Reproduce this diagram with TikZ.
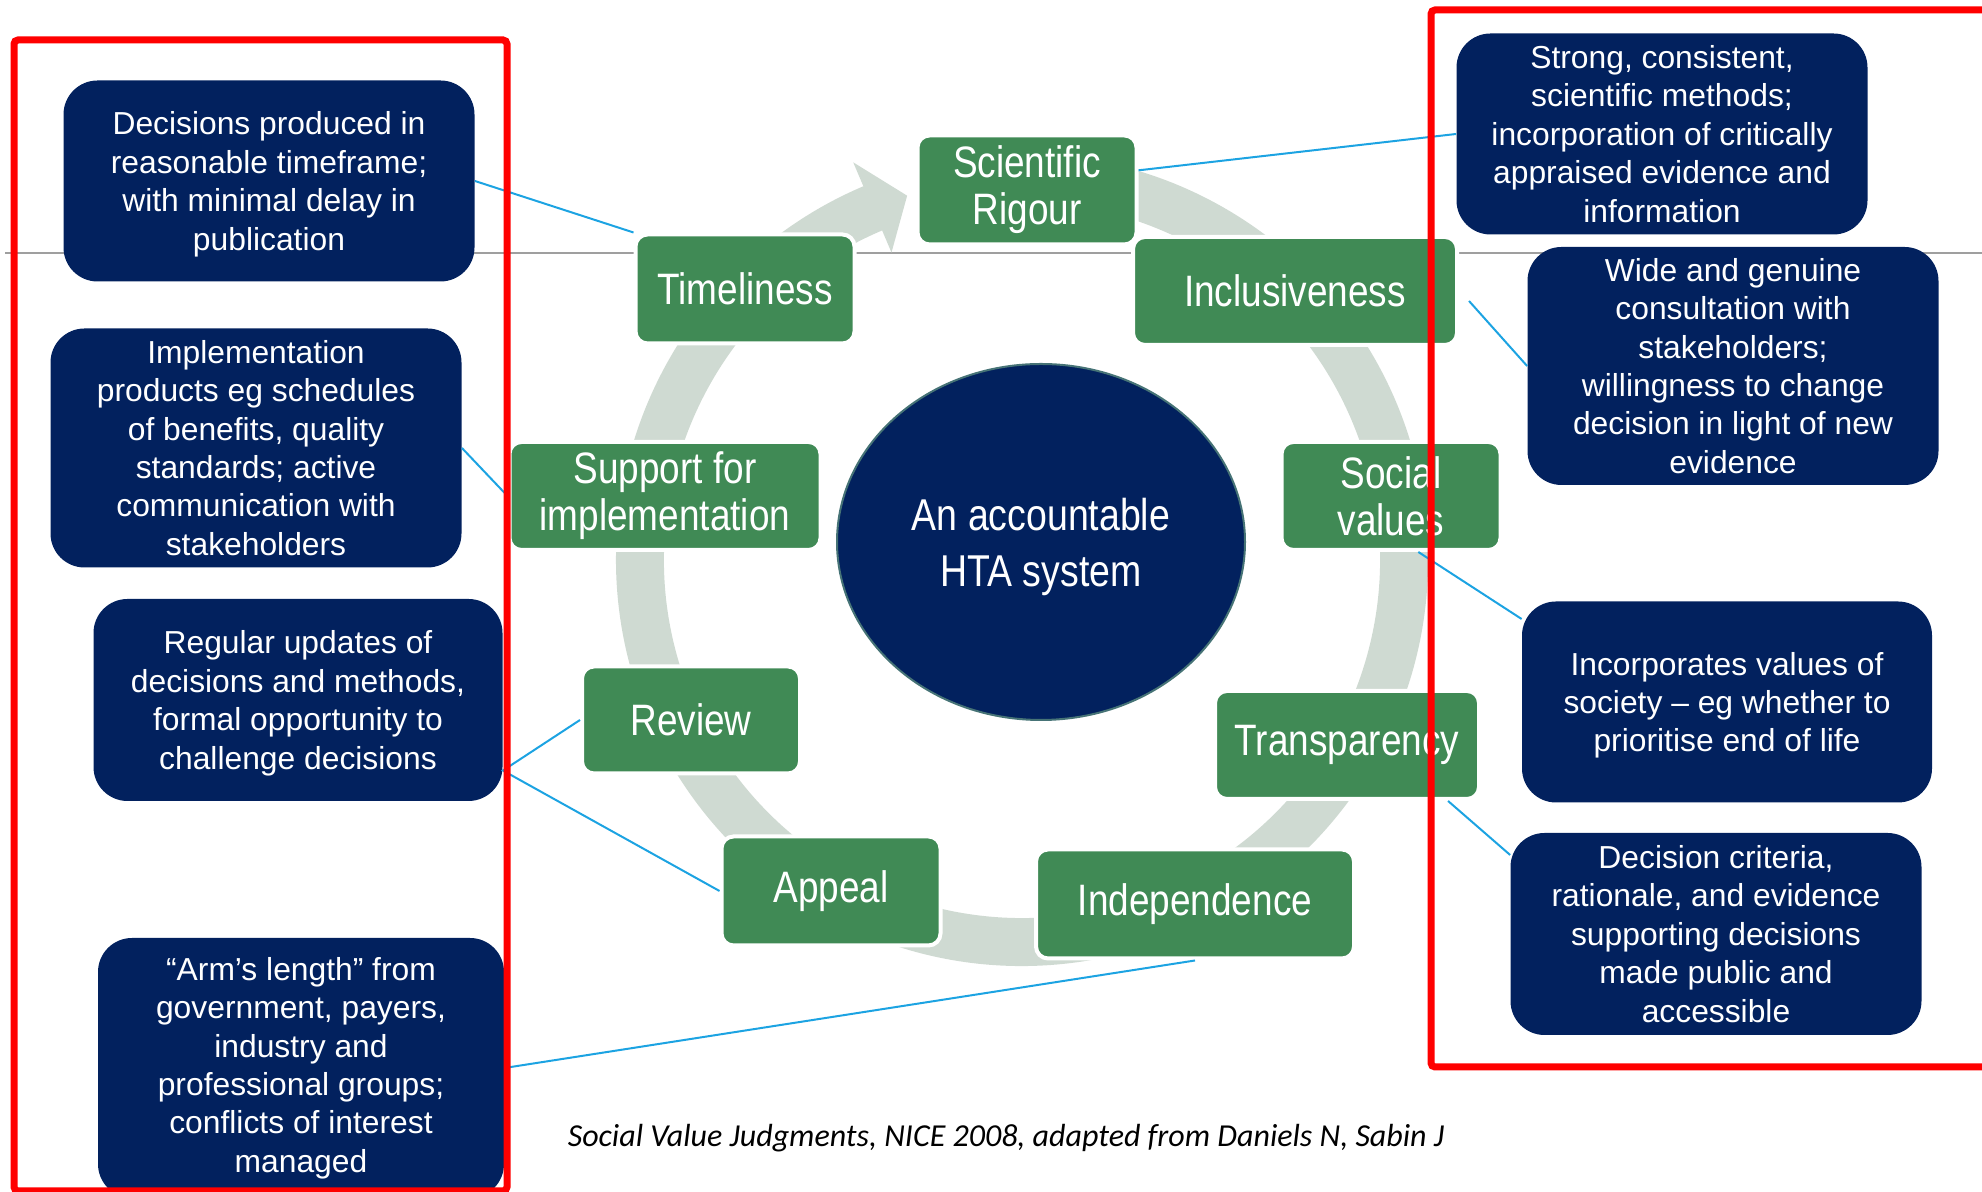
\documentclass[tikz,border=0pt]{standalone}
\usepackage{fontspec}
\setmainfont{Liberation Sans}
\newfontfamily\narrowfont[FakeStretch=0.84]{Liberation Sans}
\newfontfamily\notefont{Carlito}
\usetikzlibrary{shapes.geometric}
\definecolor{navy}{RGB}{2,33,94}
\definecolor{leaf}{RGB}{64,138,85}
\definecolor{ringgray}{RGB}{207,218,210}
\definecolor{linkblue}{RGB}{28,163,226}
\definecolor{rimteal}{RGB}{70,115,118}

\begin{document}
\begin{tikzpicture}[x=0.5pt,y=0.5pt,
    valuebox/.style={fill=leaf,draw=white,line width=2pt,rounded corners=6pt,text=white,
        align=center,inner sep=0pt,font=\narrowfont\fontsize{22}{23.5}\selectfont},
    notebox/.style={fill=navy,rounded corners=17pt,text=white,align=center,inner sep=0pt,
        minimum width=205.5pt,font=\fontsize{15.9}{19.2}\selectfont},
    lowered/.style={text depth=-1.5pt},
    linkline/.style={draw=linkblue,line width=1pt},
    redframe/.style={draw=red,line width=3.5pt,rounded corners=2pt}]
\useasboundingbox (0,0) rectangle (1982,1192);
\draw[gray!75,line width=0.75pt] (5,939) -- (1982,939);

% the cycle
\fill[ringgray,shift={(1022,632)}] (460:406) arc[start angle=460,end angle=113,radius=406]
    -- (113:432) -- (107.5:382) -- (113:334) -- (113:358)
    arc[start angle=113,end angle=460,radius=358] -- cycle;
\node[ellipse,fill=navy,draw=rimteal,line width=1pt,minimum width=204pt,minimum height=178pt,
    inner sep=0pt,text=white,align=center,text depth=-1.3pt,
    font=\narrowfont\fontsize{22.3}{28}\selectfont]
    (hta) at (1041,650) {An accountable\\HTA system};

\node[valuebox,minimum width=109.5pt,minimum height=54.5pt] (sr) at (1027,1002) {Scientific\\Rigour};
\node[valuebox,minimum width=109.5pt,minimum height=54.5pt] (tl) at (745,903) {Timeliness};
\node[valuebox,minimum width=162pt,minimum height=54pt] (inc) at (1295,901) {Inclusiveness};
\node[valuebox,minimum width=155.5pt,minimum height=54pt] (sup) at (665,696) {Support for\\implementation};
\node[valuebox,minimum width=109.5pt,minimum height=54pt] (sv) at (1391,696) {Social\\values};
\node[valuebox,minimum width=109pt,minimum height=53.5pt] (rev) at (691,472) {Review};
\node[valuebox,minimum width=132pt,minimum height=54pt] (tr) at (1347,447) {Transparency};
\node[valuebox,minimum width=109.5pt,minimum height=54.5pt] (ap) at (831,301) {Appeal};
\node[valuebox,minimum width=159pt,minimum height=54.5pt] (ind) at (1195,288) {Independence};

% notes left
\node[notebox,lowered,minimum height=100.5pt] (d1) at (269,1011)
    {Decisions produced in\\reasonable timeframe;\\with minimal delay in\\publication};
\node[notebox,minimum height=119.5pt] (d2) at (256,744)
    {Implementation\\products eg schedules\\of benefits, quality\\standards; active\\communication with\\stakeholders};
\node[notebox,lowered,minimum width=204.5pt,minimum height=101pt] (d3) at (298,492)
    {Regular updates of\\decisions and methods,\\formal opportunity to\\challenge decisions};
\node[notebox,minimum width=203pt,minimum height=130pt] (d4) at (301,124)
    {“Arm’s length” from\\government, payers,\\industry and\\professional groups;\\conflicts of interest\\managed};
% notes right
\node[notebox,minimum height=100.5pt] (d5) at (1662,1058)
    {Strong, consistent,\\scientific methods;\\incorporation of critically\\appraised evidence and\\information};
\node[notebox,minimum height=119pt] (d6) at (1733,826)
    {Wide and genuine\\consultation with\\stakeholders;\\willingness to change\\decision in light of new\\evidence};
\node[notebox,lowered,minimum width=205pt,minimum height=100.5pt] (d7) at (1727,490)
    {Incorporates values of\\society – eg whether to\\prioritise end of life};
\node[notebox,minimum height=101pt] (d8) at (1716,258)
    {Decision criteria,\\rationale, and evidence\\supporting decisions\\made public and\\accessible};

\draw[linkline] (d1.east) -- (tl.north west);
\draw[linkline] (sr.10) -- (d5.west);
\draw[linkline] ([xshift=5pt,yshift=-5pt]inc.east) -- (d6.west);
\draw[linkline] (d2.east) -- (sup.west);
\draw[linkline] (rev.west) -- (d3.-19) -- (ap.west);
\draw[linkline] (ind.south) -- (d4.east);
\draw[linkline] (sv.-64) -- (d7.158);
\draw[linkline] (tr.-29) -- (d8.159);

\node[font=\notefont\itshape\fontsize{16}{19}\selectfont] (src) at (1006,54)
    {Social Value Judgments, NICE 2008, adapted from Daniels N, Sabin J};

\draw[redframe] (14,1) rectangle (507,1152);
\draw[redframe] (1995,1182) -- (1431,1182) -- (1431,125) -- (1995,125);
\end{tikzpicture}
\end{document}
